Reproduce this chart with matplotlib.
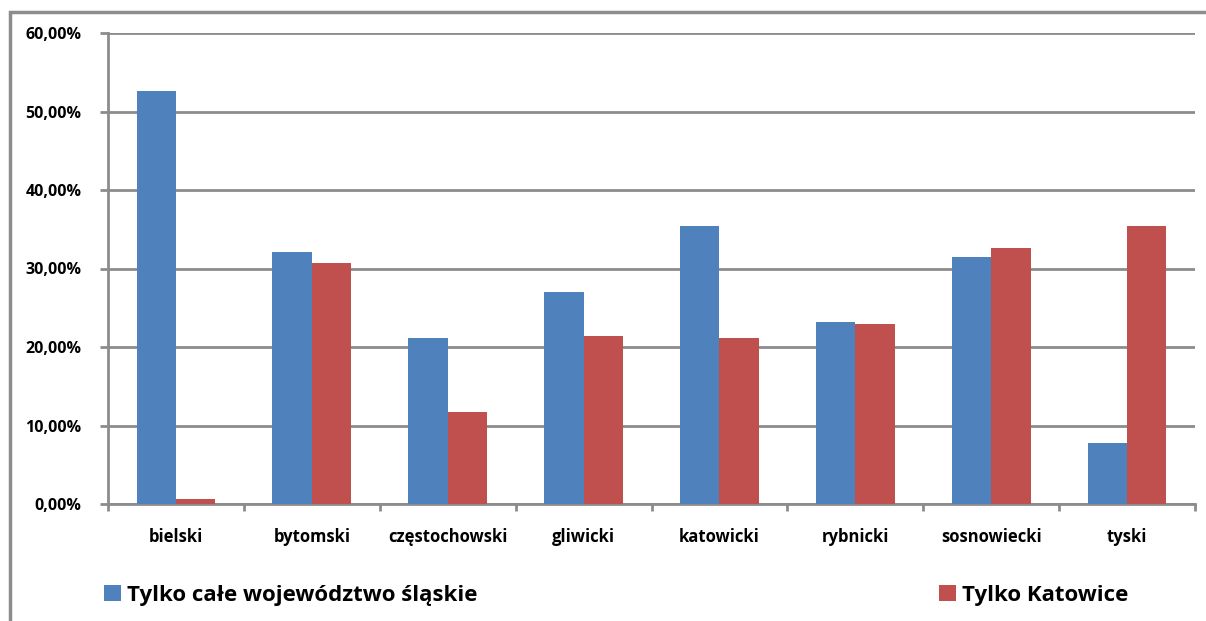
import matplotlib.pyplot as plt
import numpy as np
from matplotlib.patches import Patch, Rectangle
from matplotlib.ticker import FuncFormatter

# Data
categories = ["bielski", "bytomski", "częstochowski", "gliwicki",
              "katowicki", "rybnicki", "sosnowiecki", "tyski"]
whole_region = [52.6, 32.1, 21.1, 27.0, 35.4, 23.2, 31.5, 7.8]
katowice_only = [0.6, 30.7, 11.7, 21.4, 21.1, 22.9, 32.6, 35.4]
series_names = ["Tylko całe województwo śląskie", "Tylko Katowice"]

blue = "#4F81BD"
red = "#C0504D"
grid_col = "#8C8C8C"

plt.rcParams['font.family'] = ['Open Sans', 'DejaVu Sans']
plt.rcParams['font.weight'] = 'bold'

fig = plt.figure(figsize=(12.06, 6.21), dpi=100)
ax = fig.add_axes([108 / 1206, 1 - 504 / 621, (1195 - 108) / 1206, (504 - 33) / 621])

# outer chart frame (top and left edges visible)
fig.add_artist(Rectangle((10 / 1206, -0.1), 1.2, 1 - 12 / 621 + 0.1,
                         transform=fig.transFigure, fill=False,
                         edgecolor="#8C8C8C", linewidth=2.5))

x = np.arange(len(categories))
w = 0.29
ax.bar(x - w / 2, whole_region, w, color=blue, zorder=3)
ax.bar(x + w / 2, katowice_only, w, color=red, zorder=3)

ax.set_xlim(-0.5, len(categories) - 0.5)
ax.set_ylim(0, 60)
ax.set_yticks(np.arange(0, 61, 10))
ax.yaxis.set_major_formatter(FuncFormatter(lambda v, p: f"{v:.2f}%".replace(".", ",")))
ax.yaxis.grid(True, color=grid_col, linewidth=2, zorder=0)

ax.set_xticks(x)
ax.set_xticklabels(categories)
ax.set_xticks(np.arange(-0.5, len(categories)), minor=True)
ax.tick_params(axis='x', which='major', length=0, pad=17, labelsize=12)
ax.tick_params(axis='x', which='minor', length=5, width=2, color=grid_col, direction='out')
ax.tick_params(axis='y', length=6, width=2, color=grid_col, labelsize=11.5, pad=13)

for side in ['top', 'right']:
    ax.spines[side].set_visible(False)
for side in ['left', 'bottom']:
    ax.spines[side].set_color(grid_col)
    ax.spines[side].set_linewidth(2)

# legend: two entries far apart
h1 = Patch(facecolor=blue)
h2 = Patch(facecolor=red)
leg1 = fig.legend([h1], [series_names[0]], loc='center left',
                  bbox_to_anchor=(84 / 1206, 1 - 595 / 621), frameon=False,
                  handlelength=0.75, handleheight=0.75, handletextpad=0.3,
                  prop={'size': 16, 'weight': 'bold'})
leg2 = fig.legend([h2], [series_names[1]], loc='center left',
                  bbox_to_anchor=(919 / 1206, 1 - 595 / 621), frameon=False,
                  handlelength=0.75, handleheight=0.75, handletextpad=0.3,
                  prop={'size': 16, 'weight': 'bold'})

fig.savefig("out.png", dpi=100)
